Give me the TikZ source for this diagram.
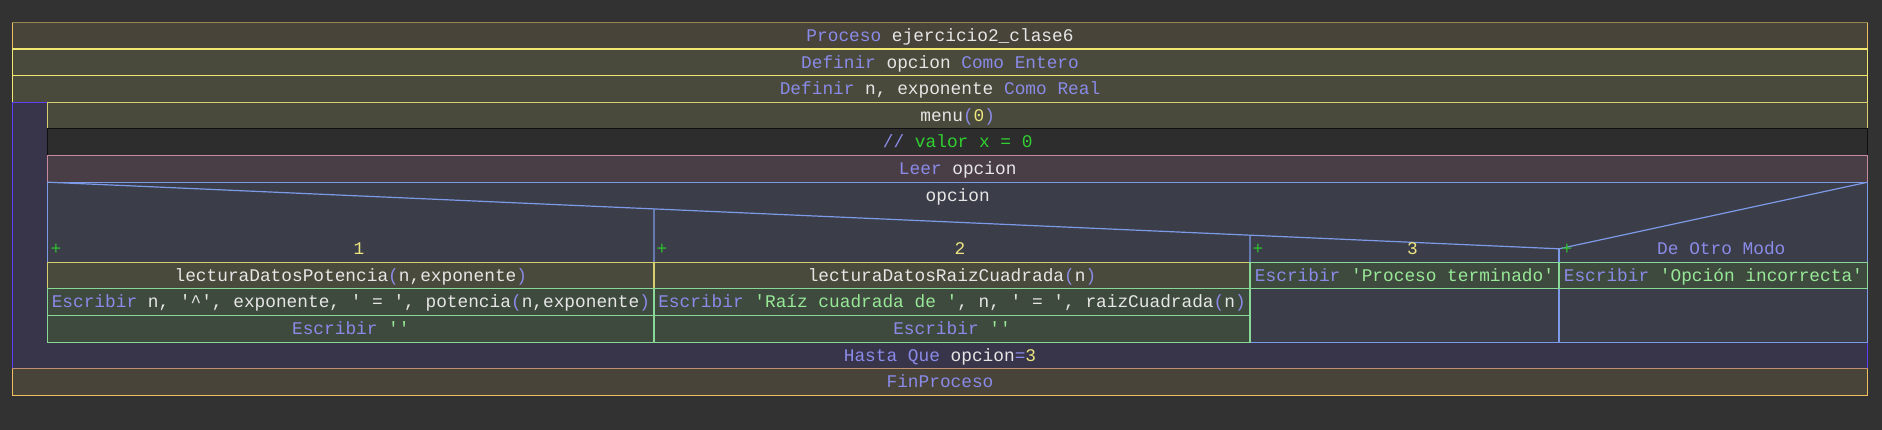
\documentclass[tikz,border=0pt]{standalone}
\usepackage{fontspec}
\newfontfamily\codefont{Liberation Mono}[Ligatures=TeXOff]
\definecolor{bg}{HTML}{323232}
\definecolor{procF}{HTML}{48443A}
\definecolor{procB}{HTML}{F0C060}
\definecolor{procT}{HTML}{9A8650}
\definecolor{finT}{HTML}{C09070}
\definecolor{defF}{HTML}{494A3B}
\definecolor{defB}{HTML}{F0E870}
\definecolor{callF}{HTML}{494A3B}
\definecolor{callB}{HTML}{D8D070}
\definecolor{comF}{HTML}{2D2D2D}
\definecolor{comB}{HTML}{101010}
\definecolor{readF}{HTML}{4A3E46}
\definecolor{readB}{HTML}{C88AA0}
\definecolor{swF}{HTML}{3B3E48}
\definecolor{swB}{HTML}{7C9AE8}
\definecolor{wrF}{HTML}{3E4A3E}
\definecolor{wrB}{HTML}{88D898}
\definecolor{repF}{HTML}{38354A}
\definecolor{repB}{HTML}{6040F8}
\definecolor{kwc}{HTML}{8A8AE8}
\definecolor{idc}{HTML}{E6E6E6}
\definecolor{numc}{HTML}{ECE480}
\definecolor{strc}{HTML}{98E898}
\definecolor{comc}{HTML}{30D030}
\definecolor{plusc}{HTML}{30C030}
\newcommand\Kw[1]{\textcolor{kwc}{#1}}
\newcommand\Nu[1]{\textcolor{numc}{#1}}
\newcommand\St[1]{\textcolor{strc}{#1}}
\newcommand\Cm[1]{\textcolor{comc}{#1}}
\newcommand\NSbox[5]{%
  \fill[#5F] (#1,#2) rectangle (#3,#4);
  \draw[bline,#5B] (#1,#2) rectangle (#3,#4);}
\tikzset{
  txt/.style={font=\codefont\fontsize{17.8}{20}\selectfont, text=idc, inner sep=0pt, anchor=base},
  bline/.style={line width=1.2pt},
}
\begin{document}
\begin{tikzpicture}[x=1pt,y=-1pt]
\fill[bg] (0,0) rectangle (1882,430);
\useasboundingbox (0,0) rectangle (1882,430);
% Proceso
\NSbox{12.3}{22.3}{1867.7}{48.95}{proc}
\draw[bline,procT] (12.3,22.3) -- (1867.7,22.3);
\NSbox{12.3}{48.95}{1867.7}{75.6}{def}
\NSbox{12.3}{75.6}{1867.7}{102.25}{def}
% repeat
\fill[repF] (12.3,102.25) rectangle (1867.7,368.75);
\draw[bline,repB] (47.7,102.25) -- (12.3,102.25) -- (12.3,368.75);
\draw[bline,repB] (1867.7,342.1) -- (1867.7,368.75);
% inner
\NSbox{47.7}{102.25}{1867.7}{128.9}{call}
\NSbox{47.7}{128.9}{1867.7}{155.55}{com}
\NSbox{47.7}{155.55}{1867.7}{182.2}{read}
\NSbox{47.7}{182.2}{1867.7}{342.1}{sw}
% switch header
\coordinate (dl) at (47.7,182.2);
\coordinate (dr) at (1867.7,182.2);
\coordinate (apex) at (1559,248.8);
\coordinate (t1) at (654,0);
\coordinate (u1) at (654,400);
\coordinate (t2) at (1250,0);
\coordinate (u2) at (1250,400);
\coordinate (k1) at (intersection of dl--apex and t1--u1);
\coordinate (k2) at (intersection of dl--apex and t2--u2);
\draw[bline,swB] (dl) -- (apex) -- (dr);
\draw[bline,swB] (k1) -- (654,262.15);
\draw[bline,swB] (k2) -- (1250,342.1);
\draw[bline,swB] (apex) -- (1559,342.1);
% cases
\NSbox{47.7}{262.15}{654}{288.8}{call}
\NSbox{47.7}{288.8}{654}{315.45}{wr}
\NSbox{47.7}{315.45}{654}{342.1}{wr}
\NSbox{654}{262.15}{1250}{288.8}{call}
\NSbox{654}{288.8}{1250}{315.45}{wr}
\NSbox{654}{315.45}{1250}{342.1}{wr}
\NSbox{1250}{262.15}{1559}{288.8}{wr}
\NSbox{1559}{262.15}{1867.7}{288.8}{wr}
% FinProceso
\NSbox{12.3}{368.75}{1867.7}{395.4}{proc}
\draw[bline,finT] (12.3,368.75) -- (1867.7,368.75);
% texts
\node[txt] (tproc) at (940,41.4) {\Kw{Proceso} ejercicio2\_clase6};
\node[txt] (tdef1) at (940,68.05) {\Kw{Definir} opcion \Kw{Como Entero}};
\node[txt] (tdef2) at (940,94.7) {\Kw{Definir} n, exponente \Kw{Como Real}};
\node[txt] (tmenu) at (957.7,121.35) {menu\Kw{(}\Nu{0}\Kw{)}};
\node[txt] (tcom) at (957.7,148.0) {\Kw{//} \Cm{valor x = 0}};
\node[txt] (tleer) at (957.7,174.65) {\Kw{Leer} opcion};
\node[txt] (tsw) at (957.7,201.3) {opcion};
\node[txt,text=plusc] (p1) at (56,254.6) {+};
\node[txt,text=plusc] (p2) at (662,254.6) {+};
\node[txt,text=plusc] (p3) at (1258,254.6) {+};
\node[txt,text=plusc] (p4) at (1567,254.6) {+};
\node[txt,text=numc] (l1) at (358.9,254.6) {1};
\node[txt,text=numc] (l2) at (960,254.6) {2};
\node[txt,text=numc] (l3) at (1412.5,254.6) {3};
\node[txt,text=kwc] (l4) at (1721.3,254.6) {De Otro Modo};
\node[txt] (c1a) at (350.85,281.25) {lecturaDatosPotencia\Kw{(}n,exponente\Kw{)}};
\node[txt] (c1b) at (350.85,307.9) {\Kw{Escribir} n, '\textasciicircum', exponente, ' = ', potencia\Kw{(}n,exponente\Kw{)}};
\node[txt] (c1c) at (350.85,334.55) {\Kw{Escribir} \St{''}};
\node[txt] (c2a) at (952,281.25) {lecturaDatosRaizCuadrada\Kw{(}n\Kw{)}};
\node[txt] (c2b) at (952,307.9) {\Kw{Escribir} \St{'Raíz cuadrada de '}, n, ' = ', raizCuadrada\Kw{(}n\Kw{)}};
\node[txt] (c2c) at (952,334.55) {\Kw{Escribir} \St{''}};
\node[txt] (c3a) at (1404.5,281.25) {\Kw{Escribir} \St{'Proceso terminado'}};
\node[txt] (c4a) at (1713.35,281.25) {\Kw{Escribir} \St{'Opción incorrecta'}};
\node[txt] (thasta) at (940,361.2) {\Kw{Hasta Que} opcion\Kw{=}\Nu{3}};
\node[txt] (tfin) at (940,387.85) {\Kw{FinProceso}};
\end{tikzpicture}
\end{document}
